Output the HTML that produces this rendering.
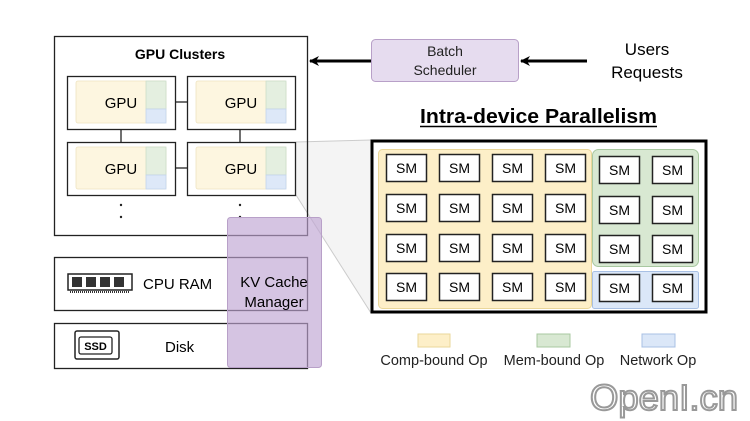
<!DOCTYPE html>
<html><head><meta charset="utf-8"><style>
body{margin:0;background:#fff}
svg{display:block;font-family:"Liberation Sans",Arial,sans-serif}
</style></head><body>
<svg width="750" height="421" viewBox="0 0 750 421" xmlns="http://www.w3.org/2000/svg">
<defs>
<marker id="ah" markerWidth="10" markerHeight="10" refX="9" refY="5" orient="auto" markerUnits="userSpaceOnUse" viewBox="0 0 10 10">
<path d="M0,0 L10,5 L0,10 L3,5 z" fill="#000"/></marker>
</defs>
<!-- projection -->
<polygon points="296,142 371,140 371,313 296,195" fill="#f4f4f4"/>
<line x1="296" y1="142" x2="371" y2="140" stroke="#ccc"/>
<line x1="296" y1="195" x2="371" y2="313" stroke="#ccc"/>
<!-- GPU cluster -->
<rect x="54.5" y="36.5" width="253" height="199" fill="none" stroke="#222" stroke-width="1.3"/>
<text x="180" y="59" font-size="14" font-weight="bold" text-anchor="middle">GPU Clusters</text>
<line x1="175" y1="102" x2="187" y2="102" stroke="#222" stroke-width="1.3"/>
<line x1="175" y1="168" x2="187" y2="168" stroke="#222" stroke-width="1.3"/>
<line x1="121" y1="129" x2="121" y2="142" stroke="#222" stroke-width="1.3"/>
<line x1="240" y1="129" x2="240" y2="142" stroke="#222" stroke-width="1.3"/>
<g id="g1">
<rect x="67.5" y="76.5" width="108" height="53" fill="#fff" stroke="#222" stroke-width="1.3"/>
<rect x="76" y="81" width="90" height="42" rx="2" fill="#fdf6e0" stroke="#eee3c0" stroke-width="0.8"/>
<rect x="146" y="81" width="20" height="28" fill="#e4efe0" stroke="#ccdcc8" stroke-width="0.8"/>
<rect x="146" y="109" width="20" height="14" fill="#dde8f8" stroke="#c4d4ec" stroke-width="0.8"/>
<text x="121" y="108" font-size="15" text-anchor="middle">GPU</text>
</g>
<use href="#g1" x="120"/>
<use href="#g1" y="66"/>
<use href="#g1" x="120" y="66"/>
<g fill="#222"><circle cx="121" cy="205" r="1.2"/><circle cx="121" cy="217" r="1.2"/><circle cx="240" cy="205" r="1.2"/><circle cx="240" cy="217" r="1.2"/></g>
<!-- CPU RAM -->
<rect x="54.5" y="257.5" width="253" height="53" fill="none" stroke="#222" stroke-width="1.3"/>
<g>
<rect x="68" y="274" width="64" height="16" fill="#fff" stroke="#222" stroke-width="1.5"/>
<rect x="72" y="277" width="10" height="10" fill="#333"/><rect x="86" y="277" width="10" height="10" fill="#333"/><rect x="100" y="277" width="10" height="10" fill="#333"/><rect x="114" y="277" width="10" height="10" fill="#333"/>
<line x1="70" y1="292" x2="130" y2="292" stroke="#333" stroke-width="2" stroke-dasharray="1,1"/>
</g>
<text x="143" y="289" font-size="15">CPU RAM</text>
<!-- Disk -->
<rect x="54.5" y="323.5" width="253" height="45" fill="none" stroke="#222" stroke-width="1.3"/>
<rect x="75" y="331" width="44" height="28" rx="2" fill="#fff" stroke="#222" stroke-width="1.5"/>
<rect x="79" y="337" width="33" height="17" rx="2" fill="none" stroke="#222" stroke-width="1.3"/>
<text x="95.5" y="350" font-size="11" font-weight="bold" text-anchor="middle">SSD</text>
<text x="165" y="352" font-size="15">Disk</text>
<!-- KV cache -->
<rect x="227.5" y="217.5" width="94" height="150" rx="3" fill="rgba(190,165,210,0.65)" stroke="#b8a0c8"/>
<text x="274" y="287" font-size="15" text-anchor="middle">KV Cache</text>
<text x="274" y="307" font-size="15" text-anchor="middle">Manager</text>
<!-- Batch scheduler -->
<rect x="371.5" y="39.5" width="147" height="42" rx="4" fill="#e6dcef" stroke="#b8a0c8"/>
<text x="445" y="56" font-size="14" text-anchor="middle" fill="#222">Batch</text>
<text x="445" y="75" font-size="14" text-anchor="middle" fill="#222">Scheduler</text>
<line x1="371" y1="61" x2="310" y2="61" stroke="#000" stroke-width="3" marker-end="url(#ah)"/>
<line x1="587" y1="61" x2="521" y2="61" stroke="#000" stroke-width="3" marker-end="url(#ah)"/>
<text x="647" y="55" font-size="17" text-anchor="middle">Users</text>
<text x="647" y="78" font-size="17" text-anchor="middle">Requests</text>
<!-- Intra-device -->
<text x="420" y="123" font-size="20" font-weight="bold" textLength="237" lengthAdjust="spacingAndGlyphs">Intra-device Parallelism</text>
<line x1="420" y1="126.5" x2="657" y2="126.5" stroke="#000" stroke-width="1.5"/>
<rect x="372" y="141" width="334" height="171" fill="#fff" stroke="#000" stroke-width="3"/>
<rect x="378.5" y="149.5" width="213" height="159" rx="4" fill="#fdefc8" stroke="#ead79a"/>
<rect x="592.5" y="149.5" width="106" height="117" rx="6" fill="#d8e8d2" stroke="#a8c8a0"/>
<rect x="592.5" y="271.5" width="106" height="37" rx="2" fill="#dbe7f8" stroke="#a8c0e4"/>
<g id="sm"><rect x="386.5" y="154.5" width="40" height="27" fill="#fff" stroke="#222" stroke-width="1.5"/><text x="406.5" y="173" font-size="14" text-anchor="middle">SM</text></g>
<use href="#sm" x="53"/><use href="#sm" x="106"/><use href="#sm" x="159"/>
<use href="#sm" y="40"/><use href="#sm" x="53" y="40"/><use href="#sm" x="106" y="40"/><use href="#sm" x="159" y="40"/>
<use href="#sm" y="80"/><use href="#sm" x="53" y="80"/><use href="#sm" x="106" y="80"/><use href="#sm" x="159" y="80"/>
<use href="#sm" y="119"/><use href="#sm" x="53" y="119"/><use href="#sm" x="106" y="119"/><use href="#sm" x="159" y="119"/>
<use href="#sm" x="213" y="2"/><use href="#sm" x="266" y="2"/>
<use href="#sm" x="213" y="42"/><use href="#sm" x="266" y="42"/>
<use href="#sm" x="213" y="81"/><use href="#sm" x="266" y="81"/>
<use href="#sm" x="213" y="120"/><use href="#sm" x="266" y="120"/>
<!-- legend -->
<rect x="418" y="334" width="32" height="13" fill="#fdefc8" stroke="#ead79a"/>
<rect x="537" y="334" width="33" height="13" fill="#d8e8d2" stroke="#a8c8a0"/>
<rect x="642" y="334" width="33" height="13" fill="#dbe7f8" stroke="#a8c0e4"/>
<text x="434" y="365" font-size="14.5" text-anchor="middle" fill="#222">Comp-bound Op</text>
<text x="554" y="365" font-size="14.5" text-anchor="middle" fill="#222">Mem-bound Op</text>
<text x="658" y="365" font-size="14.5" text-anchor="middle" fill="#222">Network Op</text>
<!-- watermark -->
<text x="590" y="410" font-size="36" fill="#fff" stroke="#999" stroke-width="2" textLength="148" lengthAdjust="spacingAndGlyphs">OpenI.cn</text>
</svg>
</body></html>
